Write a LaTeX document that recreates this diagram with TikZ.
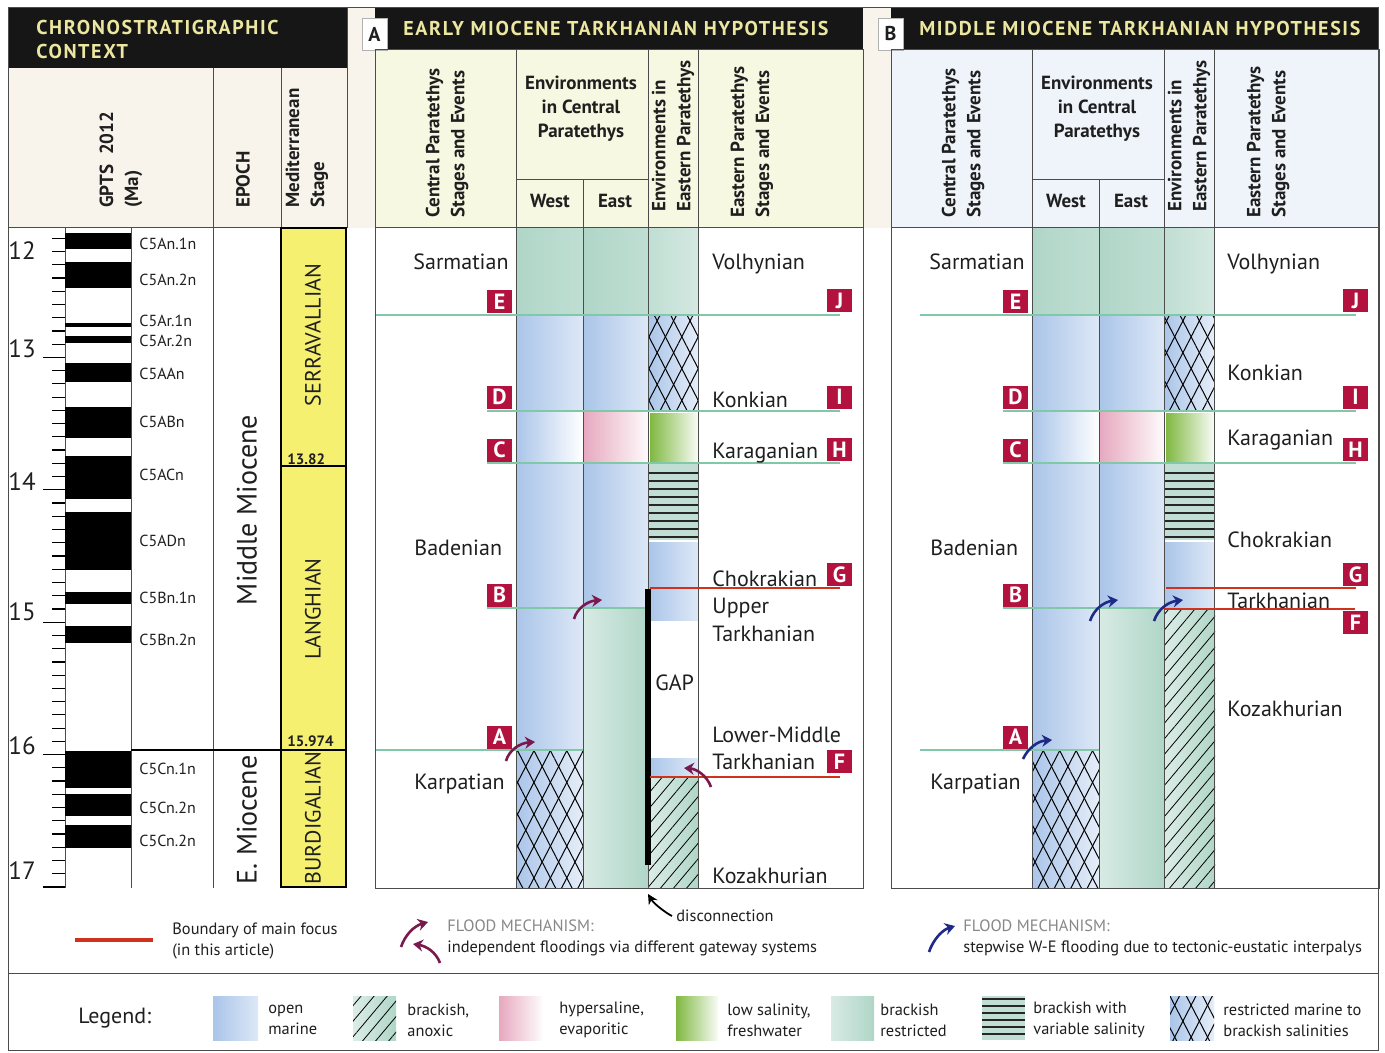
\documentclass[tikz,border=0pt]{standalone}
\usepackage{fontspec}
\setmainfont{PT Sans}
\newfontfamily\hdrfont[LetterSpace=8]{PT Sans}
\usepackage{xcolor}
\usepackage{tikz}
\usetikzlibrary{arrows.meta, patterns.meta}

\definecolor{hdrblack}{RGB}{22,22,22}
\definecolor{hdryellow}{RGB}{236,231,160}
\definecolor{cream}{RGB}{248,244,236}
\definecolor{hdrA}{RGB}{247,248,225}
\definecolor{hdrB}{RGB}{238,244,250}
\definecolor{stageyellow}{RGB}{245,240,112}
\definecolor{evred}{RGB}{180,18,62}
\definecolor{evgreen}{RGB}{128,200,168}
\definecolor{focusred}{RGB}{208,50,30}
\definecolor{omblue}{RGB}{170,197,233}
\definecolor{brgreen}{RGB}{176,214,200}
\definecolor{hypink}{RGB}{230,168,190}
\definecolor{lowgreen}{RGB}{128,184,66}
\definecolor{floodA}{RGB}{122,26,76}
\definecolor{floodB}{RGB}{30,42,134}
\definecolor{greytxt}{RGB}{135,135,135}

\begin{document}
\begin{tikzpicture}[
  x=0.5pt, y=-0.5pt,
  every node/.style={inner sep=0pt, text=black!88},
  gridline/.style={draw=black!70, line width=0.5pt},
  hdrtitle/.style={anchor=west, align=left, text=hdryellow, font=\hdrfont\bfseries\fontsize{10}{12}\selectfont},
  colhead/.style={rotate=90, anchor=west, align=left, font=\bfseries\fontsize{9.5}{12.5}\selectfont},
  envhead/.style={align=center, font=\bfseries\fontsize{9.5}{12}\selectfont},
  stagelbl/.style={anchor=base west, font=\fontsize{11}{13}\selectfont},
  medstage/.style={rotate=90, font=\fontsize{11}{13}\selectfont},
  epochlbl/.style={rotate=90, font=\fontsize{14}{16}\selectfont},
  chronlbl/.style={anchor=west, font=\fontsize{8}{9}\selectfont},
  agelbl/.style={font=\fontsize{12.5}{14}\selectfont},
  agenum/.style={anchor=west, font=\bfseries\fontsize{7.5}{9}\selectfont},
  evbox/.style={fill=evred, text=white, minimum width=12.5pt, minimum height=11.5pt, font=\bfseries\fontsize{11}{11}\selectfont},
  tagbox/.style={draw=black!30, fill=white, minimum width=12.5pt, minimum height=16pt, font=\bfseries\fontsize{10}{10}\selectfont},
  evline/.style={draw=evgreen, line width=0.6pt},
  focusline/.style={draw=focusred, line width=0.9pt},
  salline/.style={draw=black!85, line width=0.8pt},
  legtext/.style={anchor=west, align=left, font=\fontsize{8.2}{10.5}\selectfont},
  openmarine/.style={left color=omblue, middle color=omblue!88!white, right color=omblue!40!white},
  omfade/.style={left color=omblue, middle color=omblue!80!white, right color=white},
  brackish/.style={left color=brgreen, right color=brgreen!80!white},
  brackishpale/.style={left color=brgreen!80!white, right color=brgreen!55!white},
  brackishlow/.style={left color=brgreen!50!white, right color=brgreen},
  hypersaline/.style={left color=hypink, right color=hypink!5!white},
  lowsal/.style={left color=lowgreen, right color=lowgreen!5!white},
  restricted/.style={left color=omblue, right color=omblue!30!white,
    postaction={pattern={Lines[angle=62.7, distance=7.3pt, line width=0.5pt]}},
    postaction={pattern={Lines[angle=-62.7, distance=7.3pt, line width=0.5pt]}}},
  anoxic/.style={left color=brgreen!45!white, right color=brgreen,
    postaction={pattern={Lines[angle=50, distance=5pt, line width=0.4pt]}}},
  varsal/.style={fill=brgreen!80!white},
  floodW/.style={draw=floodA, line width=1.3pt, -{Stealth[length=5pt, width=6pt]}},
  floodE/.style={draw=floodB, line width=1.3pt, -{Stealth[length=5pt, width=6pt]}},
]

 \useasboundingbox (0,0) rectangle (1385,1053);
 \fill[white] (0,0) rectangle (1385,1053);
 \fill[cream] (8,8) rectangle (1378,228);

 % ---- Chronostratigraphic context ----
 \fill[hdrblack] (8,8) rectangle (347,68);
 \node[hdrtitle] (ctx) at (36,40) {CHRONOSTRATIGRAPHIC\\CONTEXT};
 \node[colhead] (gpts) at (121,208) {GPTS\enspace 2012\\(Ma)};
 \node[colhead] (epoch) at (243,208) {EPOCH};
 \node[colhead] (medst) at (307,208) {Mediterranean\\Stage};
 \draw[gridline] (8,228) -- (347,228) (347,8) -- (347,228) (281,68) -- (281,228);
 \draw[gridline] (213,68) -- (213,888) (131,228) -- (131,888) (65,228) -- (65,888);

 \foreach \t/\b in {233/249, 262/288, 323/327, 336/343, 363/382, 407/438, 456/499, 512/570,
                    592/604, 626/643, 751/788, 794/816, 825/848}
   \fill (65,\t) rectangle (131,\b);
 \foreach \k in {1,...,50}
   \draw[line width=0.6pt] (52,{225+\k*13.24}) -- (65,{225+\k*13.24});
 \foreach \a in {13,...,17}
   \draw[line width=0.6pt] (43,{225+(\a-12)*132.4}) -- (65,{225+(\a-12)*132.4});
 \foreach \a/\y in {12/251, 13/349, 14/482, 15/612, 16/746, 17/871}
   \node[agelbl] (age\a) at (22,\y) {\a};
 \foreach \y/\c [count=\i] in {244/C5An.1n, 280/C5An.2n, 321/C5Ar.1n, 341/C5Ar.2n, 374/C5AAn,
                    422/C5ABn, 475/C5ACn, 541/C5ADn, 598/C5Bn.1n, 640/C5Bn.2n,
                    769/C5Cn.1n, 808/C5Cn.2n, 841/C5Cn.2n}
   \node[chronlbl] (chron\i) at (139,\y) {\c};

 \draw[line width=0.8pt] (131,750) -- (281,750);
 \node[epochlbl] (midmio) at (247,510) {Middle Miocene};
 \node[epochlbl] (emio) at (247,820) {E. Miocene};
 \draw[line width=1.3pt, fill=stageyellow] (281,228) rectangle (346,887);
 \draw[line width=0.8pt] (281,466) -- (346,466) (281,750) -- (346,750);
 \node[medstage] (serr) at (313,335) {SERRAVALLIAN};
 \node[medstage] (lang) at (313,609) {LANGHIAN};
 \node[medstage] (burd) at (313,818) {BURDIGALIAN};
 \node[agenum] (b1382) at (287,459) {13.82};
 \node[agenum] (b15974) at (287,741) {15.974};

 % ---- panel-specific environments ----
 \shade[openmarine] (648,758) rectangle (698,777);
 \shade[anoxic] (648,778) rectangle (698,888);
 \shade[anoxic] (1164,610) rectangle (1215,888);

 % ---- the two hypothesis panels ----
 \foreach \dx/\lbl/\hcol/\ttl/\ejx/\eend in
   {0/A/hdrA/EARLY MIOCENE TARKHANIAN HYPOTHESIS/376/620,
    516/B/hdrB/MIDDLE MIOCENE TARKHANIAN HYPOTHESIS/404/609} {
 \begin{scope}[shift={(\dx,0)}]
  \fill[\hcol] (375,50) rectangle (863,228);
  \fill[hdrblack] (375,8) rectangle (863,50);
  \node[hdrtitle] (title\lbl) at (403,29) {\ttl};
  \node[tagbox] (tag\lbl) at (374.5,34) {\lbl};
  \node[colhead] (cpse\lbl) at (447,218) {Central Paratethys\\Stages and Events};
  \node[envhead] (envc\lbl) at (581,109) {Environments\\in Central\\Paratethys};
  \node[envhead] (west\lbl) at (550,201) {West};
  \node[envhead] (east\lbl) at (615,201) {East};
  \node[colhead] (enve\lbl) at (673,212) {Environments in\\Eastern Paratethys};
  \node[colhead] (epse\lbl) at (752,218) {Eastern Paratethys\\Stages and Events};

  % west
  \shade[brackish] (516,229) rectangle (583,315);
  \shade[openmarine] (516,316) rectangle (583,411);
  \shade[omfade] (516,412) rectangle (583,463);
  \shade[openmarine] (516,464) rectangle (583,750);
  \shade[restricted] (516,751) rectangle (583,888);
  % east
  \shade[brackish] (583,229) rectangle (648,315);
  \shade[openmarine] (583,316) rectangle (648,411);
  \shade[hypersaline] (583,412) rectangle (648,463);
  \shade[openmarine] (583,464) rectangle (648,608);
  \shade[brackishlow] (583,609) rectangle (648,888);
  % eastern paratethys
  \shade[brackishpale] (648,229) rectangle (698,315);
  \shade[restricted] (648,316) rectangle (698,411);
  \shade[lowsal] (650,413) rectangle (698,463);
  \fill[varsal] (648,464) rectangle (698,540);
  \foreach \y in {473,481,...,537}
    \draw[salline] (648,\y) -- (698,\y);
  \shade[openmarine] (648,542) rectangle (698,\eend);

  \draw[gridline] (375,50) rectangle (863,888);
  \draw[gridline] (375,228) -- (863,228) (516,180) -- (648,180);
  \draw[gridline] (516,50) -- (516,888) (648,50) -- (648,888) (698,50) -- (698,888) (583,180) -- (583,888);

  \draw[evline] (\ejx,315) -- (840,315);
  \draw[evline] (487,411) -- (840,411);
  \draw[evline] (487,463) -- (840,463);
  \draw[evline] (487,608) -- (648,608);
  \draw[evline] (\ejx,750) -- (583,750);
  \draw[focusline] (650,588) -- (840,588);

  \node[evbox] (E\lbl) at (499.5,302) {E};
  \node[evbox] (J\lbl) at (839.5,301) {J};
  \node[evbox] (D\lbl) at (499.5,397) {D};
  \node[evbox] (I\lbl) at (839.5,397) {I};
  \node[evbox] (C\lbl) at (499.5,450) {C};
  \node[evbox] (H\lbl) at (839.5,449.5) {H};
  \node[evbox] (G\lbl) at (839.5,574.5) {G};
  \node[evbox] (B\lbl) at (499.5,595) {B};
  \node[evbox] (A\lbl) at (499.5,737) {A};

  \node[stagelbl] (sarm\lbl) at (413,270) {Sarmatian};
  \node[stagelbl] (bade\lbl) at (414,555) {Badenian};
  \node[stagelbl] (karp\lbl) at (414,789) {Karpatian};
 \end{scope}
 }

 % ---- A: early Miocene ----
 \fill (645,589) rectangle (651,865);
 \draw[focusline] (650,777) -- (840,777);
 \node[evbox] (FA) at (839.5,761.5) {F};
 \node[stagelbl] (volhA) at (712,270) {Volhynian};
 \node[stagelbl] (konkA) at (712,407) {Konkian};
 \node[stagelbl] (karaA) at (712,458) {Karaganian};
 \node[stagelbl] (chokA) at (712,586) {Chokrakian};
 \node[stagelbl] (uppA) at (712,613) {Upper};
 \node[stagelbl] (utarA) at (712,641) {Tarkhanian};
 \node[stagelbl] (gapA) at (655,690) {GAP};
 \node[stagelbl] (lmidA) at (712,742) {Lower-Middle};
 \node[stagelbl] (ltarA) at (712,769) {Tarkhanian};
 \node[stagelbl] (kozaA) at (712,883) {Kozakhurian};
 \draw[floodW] (574,619) .. controls (577,608) and (588,601) .. (602,600);
 \draw[floodW] (506,761) .. controls (509,750) and (520,743) .. (535,742);
 \draw[floodW] (711,787) .. controls (707,776) and (697,769) .. (684,768);

 % ---- B: middle Miocene ----
 \draw[focusline] (1164,609) -- (1355,609);
 \node[evbox] (FB) at (1355.5,622.5) {F};
 \node[stagelbl] (volhB) at (1227,270) {Volhynian};
 \node[stagelbl] (konkB) at (1227,380) {Konkian};
 \node[stagelbl] (karaB) at (1227,445) {Karaganian};
 \node[stagelbl] (chokB) at (1227,547) {Chokrakian};
 \node[stagelbl] (tarkB) at (1227,608) {Tarkhanian};
 \node[stagelbl] (kozaB) at (1227,716) {Kozakhurian};
 \draw[floodE] (1090,621) .. controls (1094,609) and (1104,602) .. (1118,600);
 \draw[floodE] (1154,621) .. controls (1158,609) and (1168,602) .. (1183,600);
 \draw[floodE] (1023,759) .. controls (1028,748) and (1038,741) .. (1052,740);

 % ---- legend ----
 \draw[gridline] (8,8) rectangle (1378,1050);
 \draw[gridline] (8,973) -- (1378,973);
 \draw[focusred, line width=1.8pt] (75,940) -- (153,940);
 \node[legtext] (focus) at (172,941) {Boundary of main focus\\(in this article)};
 \draw[floodW] (401,947) .. controls (405,935) and (414,926) .. (428,922);
 \draw[floodW] (440,963) .. controls (436,952) and (426,946) .. (413,944);
 \node[legtext] (mechW) at (447,938) {\textcolor{greytxt}{FLOOD MECHANISM:}\\independent floodings via different gateway systems};
 \node[legtext] (discon) at (676,916) {disconnection};
 \coordinate (gapfoot) at (648,894);
 \draw[-{Stealth[length=5pt, width=5pt]}, line width=0.9pt] ([xshift=-2pt]discon.west) .. controls +(-6,-3) and +(6,10) .. (gapfoot);
 \draw[floodE] (929,952) .. controls (933,940) and (942,930) .. (955,926);
 \node[legtext] (mechE) at (963,938) {\textcolor{greytxt}{FLOOD MECHANISM:}\\stepwise W-E flooding due to tectonic-eustatic interpalys};

 \node[anchor=west, font=\fontsize{11}{13}\selectfont] (legend) at (78,1018) {Legend:};
 \shade[openmarine] (213,996) rectangle (258,1040);
 \node[legtext] (lgom) at (268,1020) {open\\marine};
 \shade[anoxic] (353,996) rectangle (396,1040);
 \node[legtext] (lgan) at (407,1020) {brackish,\\anoxic};
 \shade[hypersaline] (499,996) rectangle (542,1040);
 \node[legtext] (lghy) at (559,1020) {hypersaline,\\evaporitic};
 \shade[lowsal] (676,996) rectangle (718,1040);
 \node[legtext] (lglo) at (727,1020) {low salinity,\\freshwater};
 \shade[brackishlow] (831,996) rectangle (874,1040);
 \node[legtext] (lgbr) at (880,1020) {brackish\\restricted};
 \fill[varsal] (982,996) rectangle (1025,1040);
 \foreach \y in {999,1006,...,1038}
   \draw[salline] (982,\y) -- (1025,\y);
 \node[legtext] (lgva) at (1033,1020) {brackish with\\variable salinity};
 \shade[restricted] (1170,996) rectangle (1214,1040);
 \node[legtext] (lgre) at (1223,1020) {restricted marine to\\brackish salinities};

\end{tikzpicture}
\end{document}
